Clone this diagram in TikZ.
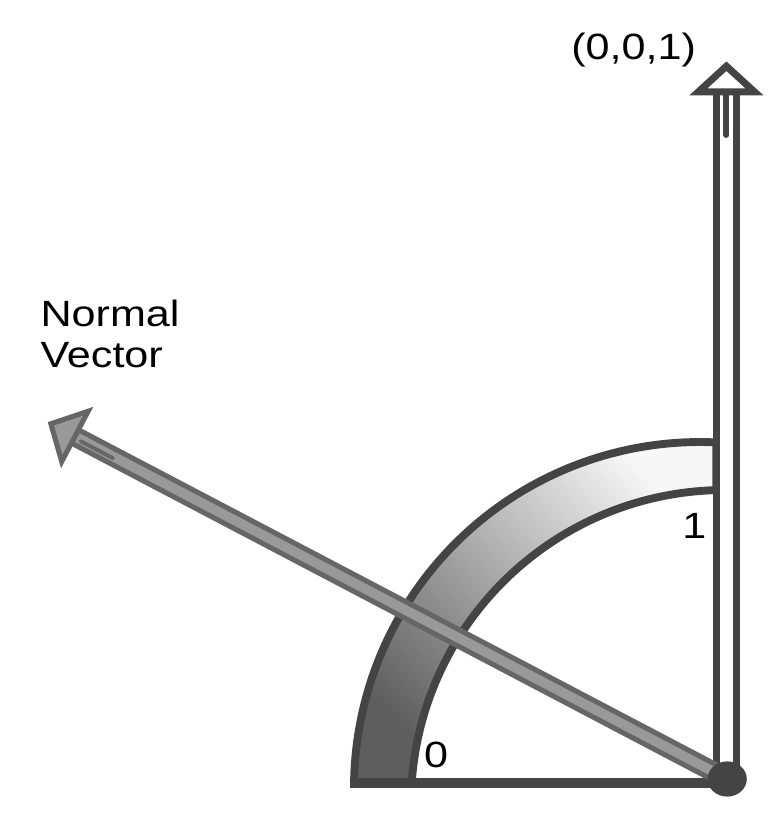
\documentclass[tikz,border=0pt]{standalone}
\usepackage{fontspec}
\setmainfont{Liberation Sans}
\usepackage{graphicx}
\usetikzlibrary{positioning,calc}
\definecolor{rim}{HTML}{444444}
\definecolor{nvrim}{HTML}{666666}
\definecolor{nvfill}{HTML}{999999}
\definecolor{ringtop}{HTML}{F7F7F7}
\definecolor{ringbot}{HTML}{5E5E5E}
\newcommand{\stretchlbl}[1]{\scalebox{1.18}[1]{#1}}

\begin{document}
\begin{tikzpicture}[font=\fontsize{13}{15}\selectfont,
    lbl/.style={inner sep=0pt},
    ring/.style={draw=rim,line width=2.8pt,top color=ringtop,bottom color=ringbot,shading angle=-46},
    groundline/.style={draw=rim,line width=3.5pt},
    zarrow/.style={draw=rim,fill=white,line width=2.5pt},
    nvarrow/.style={draw=nvrim,fill=nvfill,line width=1.8pt}]
  \useasboundingbox[fill=white] (0,0) rectangle (9.75,10.2375);
  \coordinate (O) at (9.09,0.5);
  \coordinate (B) at (4.375,0.45);
  \coordinate (Z) at (9.08,9.41);

  \path[ring] (4.4255,0.45) arc[start angle=179.17,end angle=87.28,radius=4.325]
    -- (8.955,4.111) arc[start angle=91.57,end angle=176.16,radius=3.925] -- cycle;
  \draw[groundline] (B) -- (B -| O);

  \draw[zarrow] (8.955,0.5) rectangle (9.205,9.09);
  \draw[zarrow] (8.73,9.09) -- (Z) -- (9.43,9.09) -- cycle;
  \draw[rim,line width=2.1pt,line cap=round] (9.08,9.06) -- (9.08,8.55);

  \begin{scope}[shift={(O)},rotate=152.29]
    \coordinate (N) at (9.55,0);
    \draw[nvarrow] (0,-0.094) rectangle (9.21,0.094);
    \draw[nvarrow] (9.21,-0.355) -- (N) -- (9.21,0.355) -- cycle;
    \draw[nvrim,line width=1.4pt,line cap=round] (8.66,0.02) -- (9.12,0.02);
  \end{scope}
  \fill[rim] (O) ellipse[x radius=0.245,y radius=0.22];

  \node[lbl,anchor=base] (zlbl) at (7.92,9.49) {\stretchlbl{(0,0,1)}};
  \node[lbl,anchor=base west] (nv1) at (0.50,6.15) {\stretchlbl{Normal}};
  \node[lbl,below=0.5125cm of nv1.base west,anchor=base west] (nv2) {\stretchlbl{Vector}};
  \node[lbl,anchor=base] (one) at (8.68,3.51) {\stretchlbl{1}};
  \node[lbl,anchor=base] (zero) at (5.45,0.64) {\stretchlbl{0}};
\end{tikzpicture}
\end{document}
